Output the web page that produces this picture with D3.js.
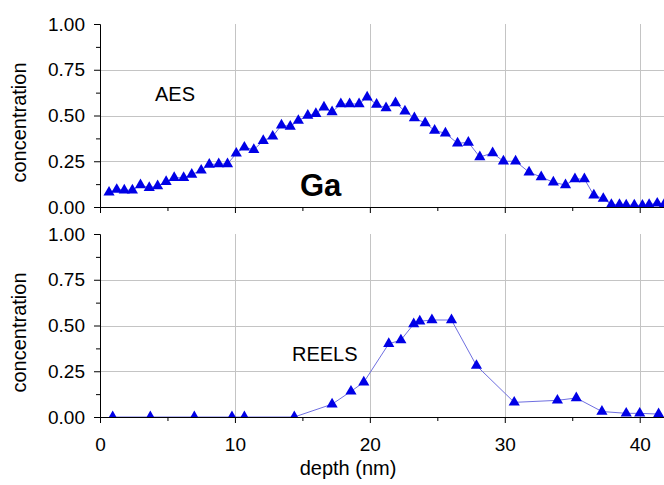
<!DOCTYPE html>
<html>
<head>
<meta charset="utf-8">
<script src="https://cdn.jsdelivr.net/npm/d3@7"></script>
<style>
  body { margin: 0; background: #fff; }
  svg { display: block; font-family: "Liberation Sans", Arial, sans-serif; }
  .grid line { stroke: #c4c4c4; stroke-width: 1; }
  .axis path, .axis line { stroke: #000; }
  .axis text { font-size: 19px; fill: #000; font-family: "Liberation Sans", Arial, sans-serif; }
</style>
</head>
<body>
<div id="chart"></div>
<script>
const FRAME_WIDTH = 664;
const FRAME_HEIGHT = 485;

// AES depth profile (top panel)
const aesDepth = [0.67, 1.24, 1.8, 2.4, 3.0, 3.65, 4.27, 4.9, 5.5, 6.2, 6.8, 7.5, 8.1, 8.8, 9.45,
  10.1, 10.7, 11.4, 12.1, 12.8, 13.45, 14.1, 14.7, 15.4, 16.0, 16.6, 17.2, 17.85, 18.5, 19.2,
  19.8, 20.5, 21.2, 21.9, 22.6, 23.3, 24.1, 24.8, 25.6, 26.5, 27.3, 28.15, 29.1, 29.9, 30.8,
  31.8, 32.7, 33.6, 34.5, 35.2, 35.9, 36.6, 37.3, 37.9, 38.5, 39.0, 39.6, 40.2, 40.7, 41.3, 41.8];
const aesConc = [0.08, 0.095, 0.092, 0.092, 0.12, 0.105, 0.115, 0.138, 0.16, 0.16, 0.178, 0.2, 0.232, 0.235, 0.235,
  0.293, 0.326, 0.313, 0.362, 0.386, 0.447, 0.44, 0.472, 0.5, 0.51, 0.545, 0.519, 0.563, 0.563, 0.563,
  0.6, 0.56, 0.541, 0.568, 0.523, 0.486, 0.459, 0.418, 0.403, 0.348, 0.353, 0.273, 0.295, 0.25, 0.25,
  0.19, 0.164, 0.135, 0.12, 0.153, 0.153, 0.064, 0.046, 0.013, 0.013, 0.01, 0.01, 0.008, 0.013, 0.02, 0.013];

// REELS depth profile (bottom panel)
const reelsDepth = [0.94, 3.73, 6.99, 9.78, 10.7, 14.4, 17.2, 18.6, 19.55, 21.4, 22.3, 23.25, 23.7,
  24.6, 26.05, 27.9, 30.7, 33.9, 35.3, 37.2, 39.0, 40.0, 41.4];
const reelsConc = [0, 0, 0, 0, 0, 0, 0.07, 0.14, 0.19, 0.4, 0.42, 0.508, 0.523,
  0.53, 0.53, 0.281, 0.08, 0.091, 0.104, 0.03, 0.02, 0.02, 0.016];

const xMajor = [0, 10, 20, 30, 40];
const xMinor = [5, 15, 25, 35];
const yMajor = [0, 0.25, 0.5, 0.75, 1];
const yMinor = [0.125, 0.375, 0.625, 0.875];
const yGrid = [0.25, 0.5, 0.75];
const xGrid = [10, 20, 30, 40];

const svg = d3.select("#chart").append("svg")
  .attr("width", FRAME_WIDTH)
  .attr("height", FRAME_HEIGHT);

svg.append("rect").attr("width", FRAME_WIDTH).attr("height", FRAME_HEIGHT).attr("fill", "#fff");

const x = d3.scaleLinear().domain([0, 41.8]).range([100, 664]);

const panels = [
  { id: "top", top: 24, bottom: 207, depth: aesDepth, conc: aesConc, labels: false },
  { id: "bot", top: 234, bottom: 417, depth: reelsDepth, conc: reelsConc, labels: true }
];

const tri = d3.symbol().type(d3.symbolTriangle).size(54);

panels.forEach(function(p) {
  let y = d3.scaleLinear().domain([0, 1]).range([p.bottom, p.top]);
  let pts = p.depth.map(function(d, i) { return { x: d, y: p.conc[i] }; });

  svg.append("clipPath").attr("id", "clip-" + p.id)
    .append("rect")
    .attr("x", 100).attr("y", p.top)
    .attr("width", FRAME_WIDTH - 100).attr("height", p.bottom - p.top);

  // grid
  let grid = svg.append("g").attr("class", "grid");
  grid.selectAll(".gx").data(xGrid).enter().append("line")
    .attr("x1", function(d) { return Math.round(x(d)) + 0.5; })
    .attr("x2", function(d) { return Math.round(x(d)) + 0.5; })
    .attr("y1", p.top).attr("y2", p.bottom);
  grid.selectAll(".gy").data(yGrid).enter().append("line")
    .attr("x1", 100).attr("x2", FRAME_WIDTH)
    .attr("y1", function(d) { return Math.round(y(d)) + 0.5; })
    .attr("y2", function(d) { return Math.round(y(d)) + 0.5; });

  let plot = svg.append("g").attr("clip-path", "url(#clip-" + p.id + ")");

  plot.append("path")
    .datum(pts)
    .attr("fill", "none")
    .attr("stroke", "#6f6fe0")
    .attr("stroke-width", 1)
    .attr("d", d3.line().x(function(d) { return x(d.x); }).y(function(d) { return y(d.y); }));

  plot.selectAll(".m").data(pts).enter().append("path")
    .attr("d", tri)
    .attr("fill", "#0000e6")
    .attr("transform", function(d) { return "translate(" + x(d.x) + "," + y(d.y) + ")"; });

  // y axis
  svg.append("g").attr("class", "axis")
    .attr("transform", "translate(100,0)")
    .call(d3.axisLeft(y).tickValues(yMinor).tickSize(4).tickSizeOuter(0).tickFormat(""));
  svg.append("g").attr("class", "axis")
    .attr("transform", "translate(100,0)")
    .call(d3.axisLeft(y).tickValues(yMajor).tickSize(6).tickSizeOuter(0).tickPadding(9)
      .tickFormat(d3.format(".2f")));

  // x axis
  svg.append("g").attr("class", "axis")
    .attr("transform", "translate(0," + p.bottom + ")")
    .call(d3.axisBottom(x).tickValues(xMinor).tickSize(4).tickSizeOuter(0).tickFormat(""));
  svg.append("g").attr("class", "axis")
    .attr("transform", "translate(0," + p.bottom + ")")
    .call(d3.axisBottom(x).tickValues(xMajor).tickSize(6).tickSizeOuter(0).tickPadding(15)
      .tickFormat(p.labels ? d3.format("d") : ""));

  svg.append("text")
    .attr("transform", "translate(26," + ((p.top + p.bottom) / 2 + 7) + ") rotate(-90)")
    .attr("text-anchor", "middle")
    .style("font-size", "20px")
    .text("concentration");
});

svg.append("text")
  .attr("x", 155).attr("y", 101)
  .style("font-size", "20px")
  .text("AES");

svg.append("text")
  .attr("x", 300).attr("y", 196)
  .style("font-size", "31px")
  .style("font-weight", "bold")
  .text("Ga");

svg.append("text")
  .attr("x", 292).attr("y", 361)
  .style("font-size", "20px")
  .text("REELS");

svg.append("text")
  .attr("x", 348).attr("y", 475)
  .attr("text-anchor", "middle")
  .style("font-size", "20px")
  .text("depth (nm)");
</script>
</body>
</html>
